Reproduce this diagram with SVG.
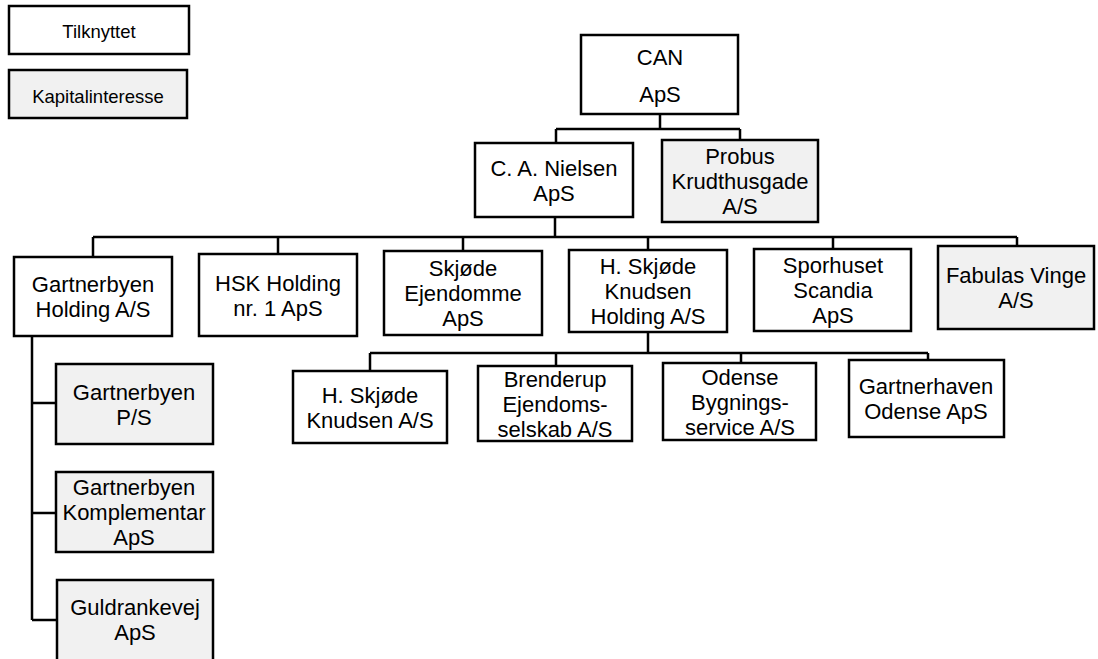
<svg xmlns="http://www.w3.org/2000/svg" width="1098" height="659" viewBox="0 0 1098 659">
<style>
.b{fill:#ffffff;stroke:#000;stroke-width:2.5}
.g{fill:#f1f1f1;stroke:#000;stroke-width:2.5}
.c{fill:none;stroke:#000;stroke-width:2.5}
text{font-family:"Liberation Sans",Arial,sans-serif;font-size:22px;fill:#000;text-anchor:middle}
.s{font-size:18.5px}
</style>
<rect width="1098" height="659" fill="#fff"/>
<g id="connectors">
<path class="c" d="M660 114V129M556 129H740M556 129V143M740 129V140"/>
<path class="c" d="M555 217V237M93 237H1017M93 237V257M278 237V254M463 237V251M648 237V250M833 237V249M1017 237V246"/>
<path class="c" d="M648 332V353M370 353H928M370 353V371M556 353V366M741 353V363M928 353V360"/>
<path class="c" d="M32 336V620M32 403H56M32 513H56M32 620H57"/>
</g>
<g id="legend-tilknyttet"><rect class="b" x="9" y="6" width="180" height="48"/><text class="s" x="99" y="38">Tilknyttet</text></g>
<g id="legend-kapitalinteresse"><rect class="g" x="9" y="70" width="178" height="48"/><text class="s" x="98" y="103">Kapitalinteresse</text></g>
<g id="can"><rect class="b" x="581" y="35" width="157" height="79"/><text x="660" y="65">CAN</text><text x="660" y="102">ApS</text></g>
<g id="ca-nielsen"><rect class="b" x="475" y="143" width="158" height="74"/><text x="554" y="176">C. A. Nielsen</text><text x="554" y="201">ApS</text></g>
<g id="probus"><rect class="g" x="662" y="140" width="156" height="82"/><text x="740" y="164">Probus</text><text x="740" y="189">Krudthusgade</text><text x="740" y="214">A/S</text></g>
<g id="gartnerbyen-holding"><rect class="b" x="14" y="257" width="158" height="79"/><text x="93" y="292">Gartnerbyen</text><text x="93" y="317">Holding A/S</text></g>
<g id="hsk-holding"><rect class="b" x="199" y="254" width="158" height="82"/><text x="278" y="291">HSK Holding</text><text x="278" y="316">nr. 1 ApS</text></g>
<g id="skjoede-ejendomme"><rect class="b" x="384" y="251" width="158" height="84"/><text x="463" y="276">Skjøde</text><text x="463" y="301">Ejendomme</text><text x="463" y="326">ApS</text></g>
<g id="hsk-holding-as"><rect class="b" x="569" y="250" width="158" height="82"/><text x="648" y="274">H. Skjøde</text><text x="648" y="299">Knudsen</text><text x="648" y="324">Holding A/S</text></g>
<g id="sporhuset"><rect class="b" x="754" y="249" width="157" height="82"/><text x="833" y="273">Sporhuset</text><text x="833" y="298">Scandia</text><text x="833" y="323">ApS</text></g>
<g id="fabulas"><rect class="g" x="938" y="246" width="156" height="83"/><text x="1016" y="283">Fabulas Vinge</text><text x="1016" y="308">A/S</text></g>
<g id="hsk-as"><rect class="b" x="293" y="371" width="154" height="72"/><text x="370" y="403">H. Skjøde</text><text x="370" y="428">Knudsen A/S</text></g>
<g id="brenderup"><rect class="b" x="478" y="366" width="154" height="75"/><text x="555" y="387">Brenderup</text><text x="555" y="412">Ejendoms-</text><text x="555" y="437">selskab A/S</text></g>
<g id="odense"><rect class="b" x="663" y="363" width="153" height="77"/><text x="740" y="385">Odense</text><text x="740" y="410">Bygnings-</text><text x="740" y="435">service A/S</text></g>
<g id="gartnerhaven"><rect class="b" x="849" y="360" width="155" height="77"/><text x="926" y="394">Gartnerhaven</text><text x="926" y="419">Odense ApS</text></g>
<g id="gartnerbyen-ps"><rect class="g" x="56" y="364" width="157" height="80"/><text x="134" y="400">Gartnerbyen</text><text x="134" y="425">P/S</text></g>
<g id="komplementar"><rect class="g" x="56" y="472" width="157" height="80"/><text x="134" y="495">Gartnerbyen</text><text x="134" y="520">Komplementar</text><text x="134" y="545">ApS</text></g>
<g id="guldrankevej"><rect class="g" x="57" y="580" width="156" height="85"/><text x="135" y="615">Guldrankevej</text><text x="135" y="640">ApS</text></g>
</svg>
